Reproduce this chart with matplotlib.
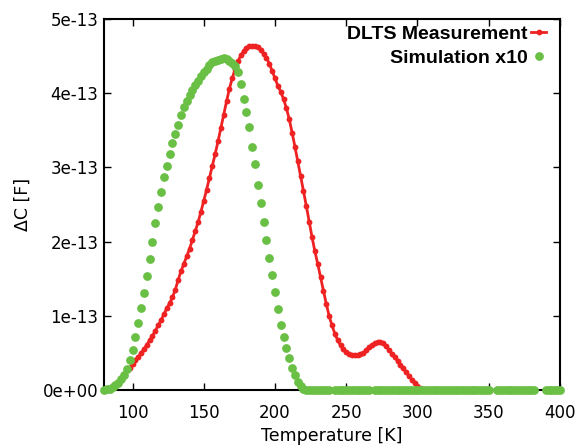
import matplotlib
matplotlib.use('Agg')
import matplotlib.pyplot as plt
from matplotlib.ticker import FuncFormatter, MultipleLocator
import numpy as np

# DLTS measurement, capacitance in units of 1e-13 F
meas_t = [98, 100, 102, 104, 106, 108, 110, 112, 114, 116, 118, 120, 122, 124, 126, 128,
          130, 132, 134, 136, 138, 140, 142, 144, 146, 148, 150, 152, 154, 156, 158, 160,
          162, 164, 166, 168, 170, 172, 174, 176, 178, 180, 182, 184, 186, 188, 190, 192,
          194, 196, 198, 200, 202, 204, 206, 208, 210, 212, 214, 216, 218, 220, 222, 224,
          226, 228, 230, 232, 234, 236, 238, 240, 242, 244, 246, 248, 250, 252, 254, 256,
          258, 260, 262, 264, 266, 268, 270, 272, 274, 276, 278, 280, 282, 284, 286, 288,
          290, 292, 294, 296, 298, 300, 302]
meas_c = [0.30, 0.35, 0.40, 0.45, 0.50, 0.55, 0.61, 0.67, 0.73, 0.80, 0.87, 0.94, 1.02, 1.10, 1.17, 1.25,
          1.35, 1.48, 1.60, 1.70, 1.80, 1.90, 2.02, 2.14, 2.26, 2.40, 2.55, 2.70, 2.86, 3.02, 3.18, 3.35,
          3.53, 3.71, 3.89, 4.06, 4.20, 4.33, 4.43, 4.51, 4.57, 4.61, 4.63, 4.64, 4.64, 4.62, 4.58, 4.53,
          4.48, 4.40, 4.30, 4.20, 4.10, 4.02, 3.92, 3.80, 3.65, 3.47, 3.28, 3.08, 2.88, 2.68, 2.48, 2.27,
          2.06, 1.87, 1.70, 1.52, 1.34, 1.16, 1.00, 0.87, 0.76, 0.67, 0.60, 0.55, 0.51, 0.48, 0.47, 0.47,
          0.47, 0.48, 0.50, 0.54, 0.58, 0.61, 0.63, 0.65, 0.65, 0.63, 0.59, 0.54, 0.49, 0.44, 0.39, 0.34,
          0.29, 0.24, 0.19, 0.14, 0.10, 0.06, 0.03]

# simulation (x10), same units
sim_t = [80, 82, 84, 86, 88, 90, 92, 94, 96, 98, 100, 102, 104, 106, 108, 110,
         112, 114, 116, 118, 120, 122, 124, 126, 128, 130, 132, 134, 136, 138, 140, 142,
         144, 146, 148, 150, 152, 154, 156, 158, 160, 162, 164, 166, 168, 170, 172, 174,
         176, 178, 180, 182, 184, 186, 188, 190, 192, 194, 196, 198, 200, 202, 204, 206,
         208, 210, 212, 214, 216, 218, 220, 222, 224, 226, 228, 230, 232, 234, 236, 238,
         242, 244, 246, 248, 250, 252, 254, 256, 258, 260, 262, 264, 266, 270, 272, 274,
         276, 278, 280, 282, 284, 286, 288, 290, 292, 294, 296, 298, 300, 302, 304, 306,
         308, 310, 312, 314, 316, 318, 320, 322, 324, 326, 328, 330, 332, 334, 336, 338,
         340, 342, 344, 346, 348, 350, 356, 358, 360, 362, 364, 366, 368, 370, 372, 374,
         376, 378, 380, 382, 390, 392, 394, 396, 398, 400]
sim_c = [0.00, 0.01, 0.02, 0.04, 0.07, 0.10, 0.15, 0.20, 0.28, 0.40, 0.54, 0.71, 0.90, 1.10, 1.31, 1.54,
         1.77, 2.00, 2.25, 2.47, 2.67, 2.87, 3.02, 3.18, 3.33, 3.45, 3.57, 3.70, 3.81, 3.89, 3.97, 4.04,
         4.11, 4.17, 4.23, 4.28, 4.33, 4.38, 4.42, 4.44, 4.45, 4.46, 4.47, 4.46, 4.44, 4.41, 4.36, 4.29,
         4.12, 3.92, 3.75, 3.55, 3.28, 3.04, 2.76, 2.52, 2.27, 2.02, 1.78, 1.55, 1.32, 1.09, 0.88, 0.72,
         0.56, 0.43, 0.30, 0.20, 0.11, 0.05, 0.02, 0.005, 0, 0, 0, 0, 0, 0, 0, 0,
         0, 0, 0, 0, 0, 0, 0, 0, 0, 0, 0, 0, 0, 0, 0, 0,
         0, 0, 0, 0, 0, 0, 0, 0, 0, 0, 0, 0, 0, 0, 0, 0,
         0, 0, 0, 0, 0, 0, 0, 0, 0, 0, 0, 0, 0, 0, 0, 0,
         0, 0, 0, 0, 0, 0, 0, 0, 0, 0, 0, 0, 0, 0, 0, 0,
         0, 0, 0, 0, 0, 0, 0, 0, 0, 0]

plt.rcParams['font.family'] = ['DejaVu Sans']

fig = plt.figure(figsize=(5.76, 4.47), dpi=100)
ax = fig.add_axes([0.1806, 0.1275, 0.7915, 0.83])

ax.plot(meas_t, np.array(meas_c) * 1e-13, '-o', color='#ee2222', lw=2, ms=4.2, mew=0,
        label='DLTS Measurement', clip_on=False, zorder=3)
ax.plot(sim_t, np.array(sim_c) * 1e-13, 'o', color='#6abf45', ms=6.3, mew=0,
        label='Simulation x10', clip_on=False, zorder=4)

ax.set_xlim(80, 400)
ax.set_ylim(0, 5e-13)
ax.xaxis.set_major_locator(MultipleLocator(50))
ax.yaxis.set_major_locator(MultipleLocator(1e-13))
ax.yaxis.set_major_formatter(FuncFormatter(lambda v, p: '%.0e' % v if abs(v) > 1e-20 else '0e+00'))
ax.yaxis.get_offset_text().set_visible(False)
ax.xaxis.get_offset_text().set_visible(False)
ax.tick_params(direction='in', length=5, width=1, top=True, right=True, labelsize=12)
ax.tick_params(axis='x', pad=10)
ax.tick_params(axis='y', pad=4)
for s in ax.spines.values():
    s.set_linewidth(1.5)

ax.set_xlabel('Temperature [K]', fontsize=12.5, labelpad=4)
ax.set_ylabel('ΔC [F]', fontsize=12.5, labelpad=8)

leg = ax.legend(loc='upper right', frameon=False, markerfirst=False, handlelength=0.8,
                handletextpad=0.15, borderaxespad=0.3, labelspacing=0.35,
                bbox_to_anchor=(1.0, 1.02),
                prop={'family': 'Liberation Sans', 'weight': 'bold', 'size': 14})

fig.savefig('out.png', dpi=100)
